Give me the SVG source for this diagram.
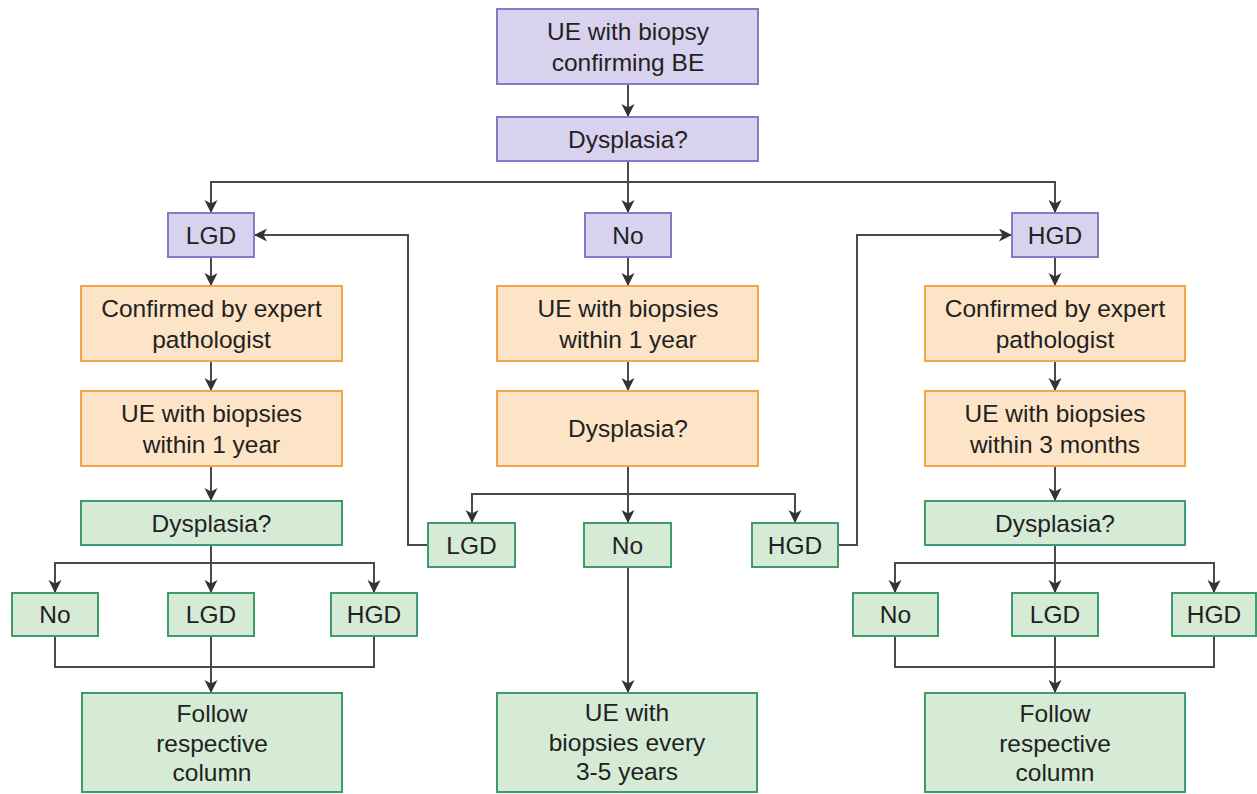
<svg xmlns="http://www.w3.org/2000/svg" width="1257" height="794" viewBox="0 0 1257 794">
  <style>
    .purple { fill: #d9d2ee; stroke: #8b78c4; stroke-width: 2; }
    .orange { fill: #fde4c6; stroke: #f2a648; stroke-width: 2; }
    .green  { fill: #d6ebd6; stroke: #3f9a6c; stroke-width: 2; }
    text { font-family: "Liberation Sans", Arial, sans-serif; font-size: 24.5px; fill: #222; text-anchor: middle; }
    .link { fill: none; stroke: #4a4a4a; stroke-width: 2; }
  </style>
  <defs>
    <marker id="arrow" markerUnits="userSpaceOnUse" markerWidth="16" markerHeight="16" refX="13" refY="6.5" orient="auto">
      <path d="M0,0 L13,6.5 L0,13 L3.5,6.5 Z" fill="#333"/>
    </marker>
  </defs>
  <rect width="1257" height="794" fill="#ffffff"/>

  <!-- connectors -->
  <g id="connectors" class="link">
    <path d="M628,84 V117" marker-end="url(#arrow)"/>
    <path d="M628,161 V213" marker-end="url(#arrow)"/>
    <path d="M211,213 V182 H1055 V213" marker-end="url(#arrow)"/>
    <path d="M628,182 H211 V213" marker-end="url(#arrow)"/>

    <!-- left column -->
    <path d="M211,257 V286" marker-end="url(#arrow)"/>
    <path d="M211,361 V391" marker-end="url(#arrow)"/>
    <path d="M211,466 V501" marker-end="url(#arrow)"/>
    <path d="M211,545 V593" marker-end="url(#arrow)"/>
    <path d="M211,563 H55 V593" marker-end="url(#arrow)"/>
    <path d="M211,563 H374 V593" marker-end="url(#arrow)"/>
    <path d="M55,636 V667 H374 V636"/>
    <path d="M211,636 V693" marker-end="url(#arrow)"/>

    <!-- middle column -->
    <path d="M628,257 V286" marker-end="url(#arrow)"/>
    <path d="M628,361 V391" marker-end="url(#arrow)"/>
    <path d="M628,466 V523" marker-end="url(#arrow)"/>
    <path d="M628,494 H472 V523" marker-end="url(#arrow)"/>
    <path d="M628,494 H795 V523" marker-end="url(#arrow)"/>
    <path d="M628,567 V693" marker-end="url(#arrow)"/>

    <!-- feedback links -->
    <path d="M428,545 H408 V235 H254" marker-end="url(#arrow)"/>
    <path d="M838,545 H857 V235 H1012" marker-end="url(#arrow)"/>

    <!-- right column -->
    <path d="M1055,257 V286" marker-end="url(#arrow)"/>
    <path d="M1055,361 V391" marker-end="url(#arrow)"/>
    <path d="M1055,466 V501" marker-end="url(#arrow)"/>
    <path d="M1055,545 V593" marker-end="url(#arrow)"/>
    <path d="M1055,563 H895 V593" marker-end="url(#arrow)"/>
    <path d="M1055,563 H1214 V593" marker-end="url(#arrow)"/>
    <path d="M895,636 V667 H1214 V636"/>
    <path d="M1055,636 V693" marker-end="url(#arrow)"/>
  </g>

  <!-- top -->
  <g id="start">
    <rect class="purple" x="497" y="9" width="261" height="75"/>
    <text x="628" y="40">UE with biopsy</text>
    <text x="628" y="71">confirming BE</text>
  </g>
  <g id="dysplasia-top">
    <rect class="purple" x="497" y="117" width="261" height="44"/>
    <text x="628" y="147.5">Dysplasia?</text>
  </g>

  <!-- left column -->
  <g id="lgd">
    <rect class="purple" x="168" y="213" width="86" height="44"/>
    <text x="211" y="243.5">LGD</text>
  </g>
  <g id="lgd-confirm">
    <rect class="orange" x="81" y="286" width="261" height="75"/>
    <text x="211.5" y="317">Confirmed by expert</text>
    <text x="211.5" y="348">pathologist</text>
  </g>
  <g id="lgd-ue">
    <rect class="orange" x="81" y="391" width="261" height="75"/>
    <text x="211.5" y="422">UE with biopsies</text>
    <text x="211.5" y="453">within 1 year</text>
  </g>
  <g id="lgd-dysplasia">
    <rect class="green" x="81" y="501" width="261" height="44"/>
    <text x="211.5" y="531.5">Dysplasia?</text>
  </g>
  <g id="lgd-no">
    <rect class="green" x="12" y="593" width="86" height="43"/>
    <text x="55" y="623">No</text>
  </g>
  <g id="lgd-lgd">
    <rect class="green" x="168" y="593" width="86" height="43"/>
    <text x="211" y="623">LGD</text>
  </g>
  <g id="lgd-hgd">
    <rect class="green" x="331" y="593" width="86" height="43"/>
    <text x="374" y="623">HGD</text>
  </g>
  <g id="lgd-follow">
    <rect class="green" x="82" y="693" width="260" height="99"/>
    <text x="212" y="722">Follow</text>
    <text x="212" y="751.5">respective</text>
    <text x="212" y="781">column</text>
  </g>

  <!-- middle column -->
  <g id="no">
    <rect class="purple" x="585" y="213" width="86" height="44"/>
    <text x="628" y="243.5">No</text>
  </g>
  <g id="no-ue">
    <rect class="orange" x="497" y="286" width="261" height="75"/>
    <text x="628" y="317">UE with biopsies</text>
    <text x="628" y="348">within 1 year</text>
  </g>
  <g id="no-dysplasia">
    <rect class="orange" x="497" y="391" width="261" height="75"/>
    <text x="628" y="437">Dysplasia?</text>
  </g>
  <g id="no-lgd">
    <rect class="green" x="428" y="523" width="87" height="44"/>
    <text x="471.5" y="553.5">LGD</text>
  </g>
  <g id="no-no">
    <rect class="green" x="584" y="523" width="87" height="44"/>
    <text x="627.5" y="553.5">No</text>
  </g>
  <g id="no-hgd">
    <rect class="green" x="752" y="523" width="86" height="44"/>
    <text x="795" y="553.5">HGD</text>
  </g>
  <g id="no-followup">
    <rect class="green" x="497" y="693" width="260" height="99"/>
    <text x="627" y="721">UE with</text>
    <text x="627" y="750.5">biopsies every</text>
    <text x="627" y="780">3-5 years</text>
  </g>

  <!-- right column -->
  <g id="hgd">
    <rect class="purple" x="1012" y="213" width="86" height="44"/>
    <text x="1055" y="243.5">HGD</text>
  </g>
  <g id="hgd-confirm">
    <rect class="orange" x="925" y="286" width="260" height="75"/>
    <text x="1055" y="317">Confirmed by expert</text>
    <text x="1055" y="348">pathologist</text>
  </g>
  <g id="hgd-ue">
    <rect class="orange" x="925" y="391" width="260" height="75"/>
    <text x="1055" y="422">UE with biopsies</text>
    <text x="1055" y="453">within 3 months</text>
  </g>
  <g id="hgd-dysplasia">
    <rect class="green" x="925" y="501" width="260" height="44"/>
    <text x="1055" y="531.5">Dysplasia?</text>
  </g>
  <g id="hgd-no">
    <rect class="green" x="853" y="593" width="85" height="43"/>
    <text x="895.5" y="623">No</text>
  </g>
  <g id="hgd-lgd">
    <rect class="green" x="1012" y="593" width="86" height="43"/>
    <text x="1055" y="623">LGD</text>
  </g>
  <g id="hgd-hgd">
    <rect class="green" x="1172" y="593" width="84" height="43"/>
    <text x="1214" y="623">HGD</text>
  </g>
  <g id="hgd-follow">
    <rect class="green" x="925" y="693" width="260" height="99"/>
    <text x="1055" y="722">Follow</text>
    <text x="1055" y="751.5">respective</text>
    <text x="1055" y="781">column</text>
  </g>
</svg>
